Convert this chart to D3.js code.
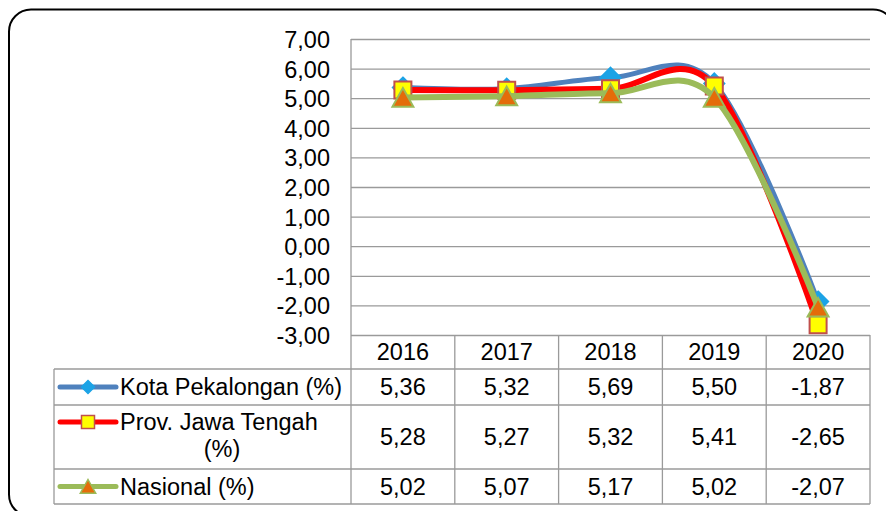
<!DOCTYPE html>
<html>
<head>
<meta charset="utf-8">
<script src="https://cdn.jsdelivr.net/npm/d3@7"></script>
<style>
html, body { margin: 0; padding: 0; background: #fff; }
svg text { font-family: "Liberation Sans", Arial, sans-serif; fill: #000; }
</style>
</head>
<body>
<svg id="chart"></svg>
<script>
// data
var years = ["2016", "2017", "2018", "2019", "2020"];
var kotaPekalongan = [5.36, 5.32, 5.69, 5.50, -1.87];
var provJawaTengah = [5.28, 5.27, 5.32, 5.41, -2.65];
var nasional = [5.02, 5.07, 5.17, 5.02, -2.07];
var seriesNames = [["Kota Pekalongan (%)"], ["Prov. Jawa Tengah", "(%)"], ["Nasional (%)"]];
var yTickValues = [7, 6, 5, 4, 3, 2, 1, 0, -1, -2, -3];

var width = 886, height = 511;
var plot = {left: 351, right: 870, top: 39, bottom: 335};
var rowLines = [335, 369, 405, 469, 504];
var tableLeft = 54;
var gridColor = "#9a9a9a";
var fontSize = 23.5;

var locale = d3.formatLocale({decimal: ",", thousands: ".", grouping: [3], currency: ["", ""], minus: "-"});
var fmt = locale.format(".2f");

var series = [
  {values: kotaPekalongan, line: "#4f81bd", lineWidth: 5, marker: "diamond", fill: "#1ca3e6", stroke: "#1ca3e6"},
  {values: provJawaTengah, line: "#ff0000", lineWidth: 6, marker: "square", fill: "#ffff00", stroke: "#c0504d"},
  {values: nasional, line: "#9bbb59", lineWidth: 6, marker: "triangle", fill: "#e46c0a", stroke: "#9bbb59"}
];

var svg = d3.select("#chart").attr("width", width).attr("height", height);

// outer rounded frame
svg.append("rect")
  .attr("x", 9).attr("y", 9.5)
  .attr("width", 886).attr("height", 507)
  .attr("rx", 22).attr("ry", 22)
  .attr("fill", "#fff")
  .attr("stroke", "#000")
  .attr("stroke-width", 2);

var x = d3.scaleBand().domain(years).range([plot.left, plot.right]);
var y = d3.scaleLinear().domain([-3, 7]).range([plot.bottom, plot.top]);
var cx = d => x(d) + x.bandwidth() / 2;

// y axis with gridlines
var yAxis = g => g
  .attr("transform", `translate(${plot.left},0)`)
  .call(d3.axisLeft(y)
    .tickValues(yTickValues)
    .tickFormat(fmt)
    .tickSize(-(plot.right - plot.left))
    .tickPadding(21))
  .call(g => g.select(".domain").remove())
  .call(g => g.selectAll(".tick line").attr("stroke", gridColor).attr("stroke-width", 1.3))
  .call(g => g.selectAll(".tick text")
    .attr("font-size", fontSize)
    .attr("font-family", "Liberation Sans, Arial, sans-serif")
    .attr("fill", "#000")
    .attr("dy", "0.36em"));

svg.append("g").call(yAxis);

// table grid
var tg = svg.append("g").attr("stroke", gridColor).attr("stroke-width", 1.3);
tg.append("line").attr("x1", plot.left).attr("x2", plot.left).attr("y1", plot.top).attr("y2", rowLines[4]);
tg.append("line").attr("x1", tableLeft).attr("x2", tableLeft).attr("y1", rowLines[1]).attr("y2", rowLines[4]);
tg.append("line").attr("x1", plot.right).attr("x2", plot.right).attr("y1", rowLines[0]).attr("y2", rowLines[4]);
years.slice(1).forEach(function(yr) {
  tg.append("line").attr("x1", x(yr)).attr("x2", x(yr)).attr("y1", rowLines[0]).attr("y2", rowLines[4]);
});
rowLines.slice(1).forEach(function(ry) {
  tg.append("line").attr("x1", tableLeft).attr("x2", plot.right).attr("y1", ry).attr("y2", ry);
});

// header years (x axis)
var xAxis = g => g
  .attr("transform", `translate(0,${plot.bottom})`)
  .call(d3.axisBottom(x).tickSize(0).tickPadding(8))
  .call(g => g.select(".domain").remove())
  .call(g => g.selectAll(".tick text")
    .attr("font-size", fontSize)
    .attr("font-family", "Liberation Sans, Arial, sans-serif")
    .attr("fill", "#000"));

svg.append("g").call(xAxis);

// marker shapes
function markerPath(type, s) {
  if (type == "diamond") return `M0,${-s}L${s},0L0,${s}L${-s},0Z`;
  if (type == "square") return `M${-s},${-s}H${s}V${s}H${-s}Z`;
  return `M0,${-s}L${s * 1.1},${s * 0.95}H${-s * 1.1}Z`;
}
var markerSize = {diamond: 10, square: 8.5, triangle: 9.5};

var line = d3.line()
  .x((d, i) => cx(years[i]))
  .y(d => y(d))
  .curve(d3.curveCardinal.tension(0));

series.forEach(function(s) {
  var g = svg.append("g");
  g.append("path")
    .attr("d", line(s.values))
    .attr("fill", "none")
    .attr("stroke", s.line)
    .attr("stroke-width", s.lineWidth)
    .attr("stroke-linejoin", "round");
  g.selectAll("path.marker")
    .data(s.values)
    .join("path")
    .attr("class", "marker")
    .attr("transform", (d, i) => `translate(${cx(years[i])},${y(d)})`)
    .attr("d", markerPath(s.marker, markerSize[s.marker]))
    .attr("fill", s.fill)
    .attr("stroke", s.stroke)
    .attr("stroke-width", 2);
});

// table body: legend keys, names, values
var legendSize = {diamond: 6.5, square: 6.5, triangle: 7};
series.forEach(function(s, r) {
  var top = rowLines[r + 1], bottom = rowLines[r + 2];
  var mid = (top + bottom) / 2;
  var names = seriesNames[r];
  var keyY = names.length > 1 ? top + 17 : mid;

  svg.append("line")
    .attr("x1", 60).attr("x2", 116)
    .attr("y1", keyY).attr("y2", keyY)
    .attr("stroke", s.line)
    .attr("stroke-width", 5)
    .attr("stroke-linecap", "round");
  svg.append("path")
    .attr("transform", `translate(88,${keyY})`)
    .attr("d", markerPath(s.marker, legendSize[s.marker]))
    .attr("fill", s.fill)
    .attr("stroke", s.stroke)
    .attr("stroke-width", 1.5);

  if (names.length > 1) {
    svg.append("text").attr("x", 120).attr("y", top + 25)
      .attr("font-size", fontSize).text(names[0]);
    svg.append("text").attr("x", 222).attr("y", top + 52)
      .attr("font-size", fontSize).attr("text-anchor", "middle").text(names[1]);
  } else {
    svg.append("text").attr("x", 120).attr("y", mid + 8.3)
      .attr("font-size", fontSize).text(names[0]);
  }

  svg.selectAll(null)
    .data(s.values)
    .join("text")
    .attr("x", (d, i) => cx(years[i]))
    .attr("y", mid + 8.3)
    .attr("text-anchor", "middle")
    .attr("font-size", fontSize)
    .text(d => fmt(d));
});
</script>
</body>
</html>
